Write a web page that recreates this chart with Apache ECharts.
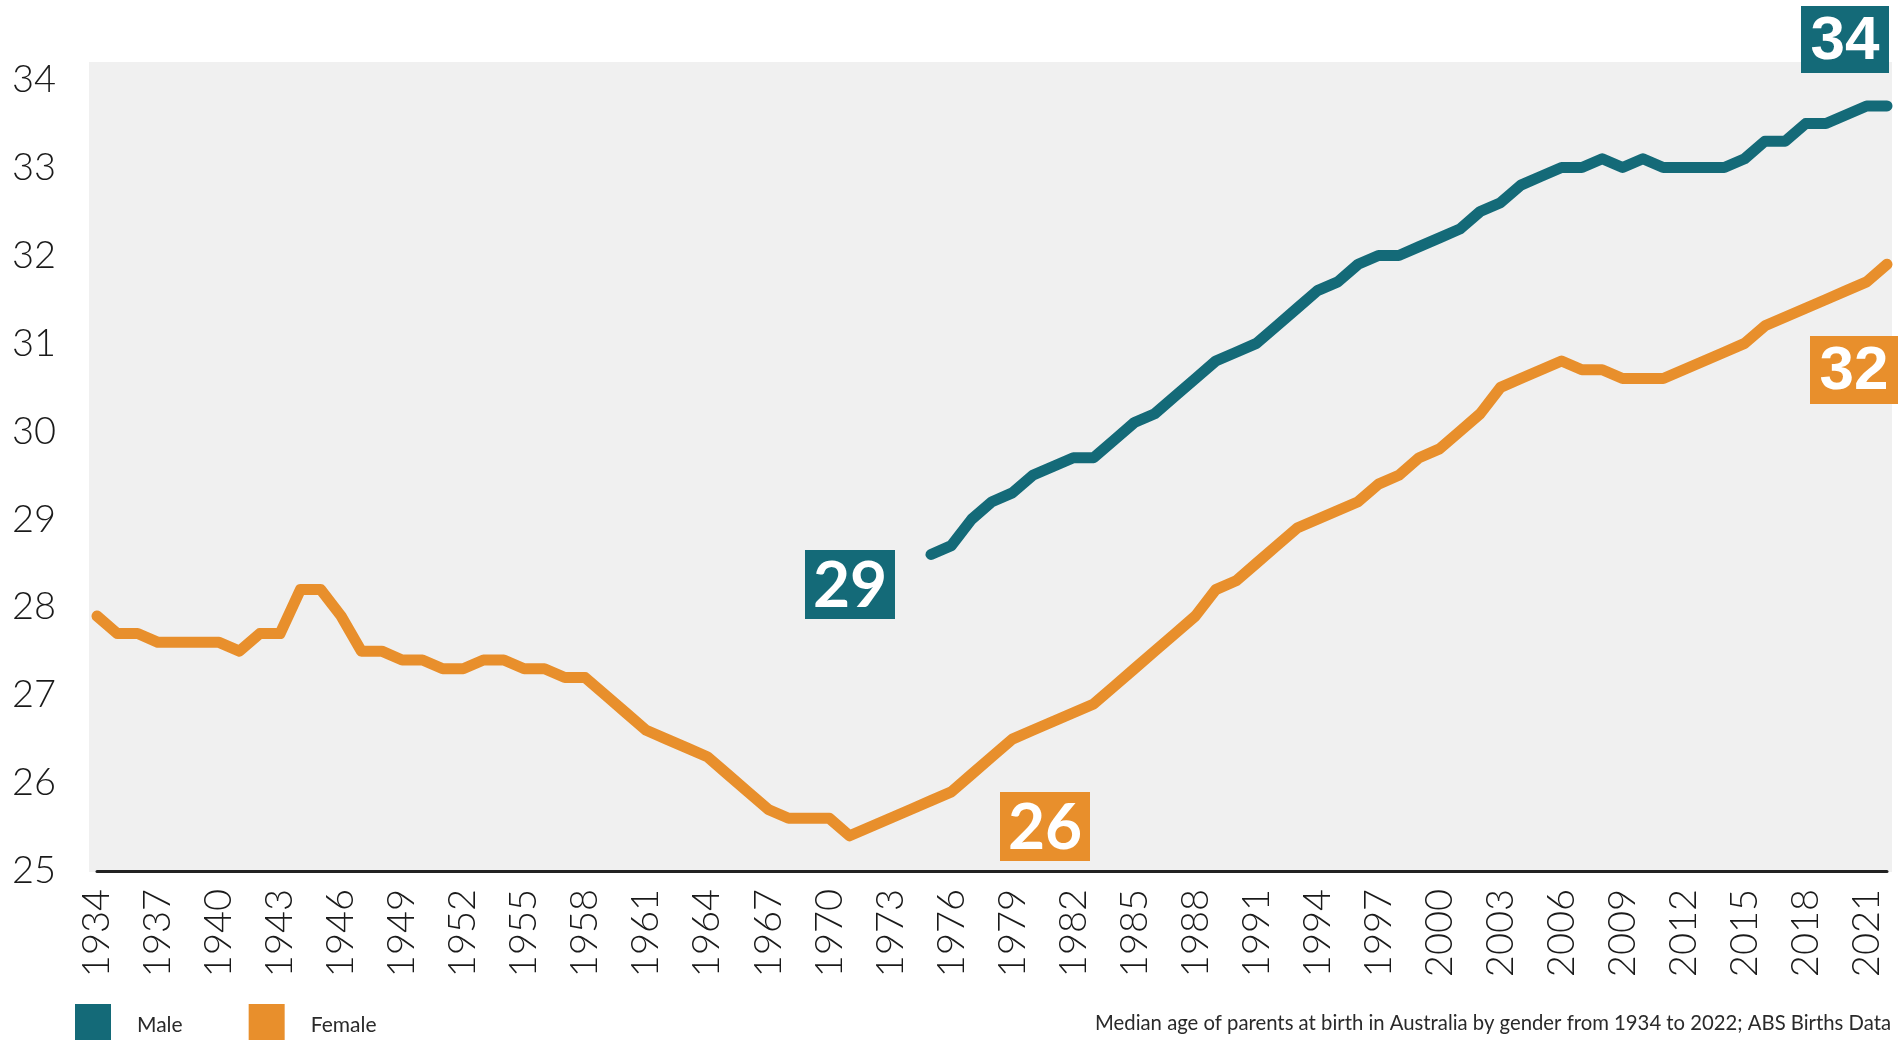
<!DOCTYPE html>
<html>
<head>
<meta charset="utf-8">
<title>Median age of parents at birth</title>
<script src="https://cdn.jsdelivr.net/npm/echarts@6.0.0/dist/echarts.min.js"></script>
<style>
  html, body { margin: 0; padding: 0; background: #fff; }
  #chart { width: 1899px; height: 1040px; }
</style>
</head>
<body>
<div id="chart"></div>
<script>
// years on the x axis (1934 - 2022)
const firstYear = 1934
const lastYear = 2022
const years = []
for (let y = firstYear; y <= lastYear; y++) years.push(String(y))

// female median age, 1934 - 2022
const femaleValues = [
  27.9, 27.7, 27.7, 27.6, 27.6, 27.6, 27.6, 27.5, 27.7, 27.7,
  28.2, 28.2, 27.9, 27.5, 27.5, 27.4, 27.4, 27.3, 27.3, 27.4,
  27.4, 27.3, 27.3, 27.2, 27.2, 27.0, 26.8, 26.6, 26.5, 26.4,
  26.3, 26.1, 25.9, 25.7, 25.6, 25.6, 25.6, 25.4, 25.5, 25.6,
  25.7, 25.8, 25.9, 26.1, 26.3, 26.5, 26.6, 26.7, 26.8, 26.9,
  27.1, 27.3, 27.5, 27.7, 27.9, 28.2, 28.3, 28.5, 28.7, 28.9,
  29.0, 29.1, 29.2, 29.4, 29.5, 29.7, 29.8, 30.0, 30.2, 30.5,
  30.6, 30.7, 30.8, 30.7, 30.7, 30.6, 30.6, 30.6, 30.7, 30.8,
  30.9, 31.0, 31.2, 31.3, 31.4, 31.5, 31.6, 31.7, 31.9
]

// male median age, only from 1975
const maleStartYear = 1975
const maleValues = [
  28.6, 28.7, 29.0, 29.2, 29.3, 29.5, 29.6, 29.7, 29.7, 29.9,
  30.1, 30.2, 30.4, 30.6, 30.8, 30.9, 31.0, 31.2, 31.4, 31.6,
  31.7, 31.9, 32.0, 32.0, 32.1, 32.2, 32.3, 32.5, 32.6, 32.8,
  32.9, 33.0, 33.0, 33.1, 33.0, 33.1, 33.0, 33.0, 33.0, 33.0,
  33.1, 33.3, 33.3, 33.5, 33.5, 33.6, 33.7, 33.7
]

// y axis ticks
const yMin = 25
const yMax = 34.2
const yStep = 1

// callout numbers
const calloutMale = ['29', '34']
const calloutFemale = ['26', '32']

const teal = '#146a78'
const orange = '#e88f2c'
const sourceNote = 'Median age of parents at birth in Australia by gender from 1934 to 2022; ABS Births Data'

// pad male series with nulls before it starts
const maleData = years.map((y) => {
  const i = Number(y) - maleStartYear
  return i >= 0 ? maleValues[i] : null
})

// coloured box with a white number in it
const callout = (x, y, w, h, color, text, font) => ({
  type: 'group',
  x: x,
  y: y,
  z: 10,
  children: [
    {
      type: 'rect',
      shape: { x: 0, y: 0, width: w, height: h },
      style: { fill: color }
    },
    {
      type: 'text',
      x: w / 2,
      y: h / 2 + 2,
      style: {
        text: text,
        fill: '#fff',
        font: font,
        align: 'center',
        verticalAlign: 'middle'
      }
    }
  ]
})

const option = {
  backgroundColor: '#fff',
  animation: false,
  textStyle: { fontFamily: 'Lato, "DejaVu Sans", sans-serif' },
  grid: {
    left: 97,
    right: 12,
    top: 62,
    bottom: 169
  },
  title: {
    text: sourceNote,
    right: 8,
    top: 1013,
    padding: 0,
    textStyle: {
      fontSize: 20.3,
      fontWeight: 'normal',
      color: '#2a2a2a'
    }
  },
  legend: {
    left: 75,
    top: 1004,
    padding: 0,
    icon: 'rect',
    itemWidth: 36,
    itemHeight: 42,
    itemGap: 66,
    textStyle: {
      fontSize: 21,
      color: '#2a2a2a',
      padding: [0, 0, 0, 21]
    },
    data: ['Male', 'Female']
  },
  graphic: [
    {
      // grey plot panel
      type: 'rect',
      silent: true,
      z: -10,
      shape: { x: 89, y: 62, width: 1803, height: 810 },
      style: { fill: '#f0f0f0' }
    },
    callout(1801, 6, 88, 67, teal, calloutMale[1], 'bold 62px "Liberation Sans", Arial, sans-serif'),
    callout(1810, 336, 88, 68, orange, calloutFemale[1], 'bold 62px "Liberation Sans", Arial, sans-serif'),
    callout(805, 550, 90, 69, teal, calloutMale[0], 'bold 64px Lato, sans-serif'),
    callout(1000, 792, 90, 69, orange, calloutFemale[0], 'bold 64px Lato, sans-serif')
  ],
  xAxis: {
    type: 'category',
    data: years,
    boundaryGap: false,
    axisLine: { show: true, lineStyle: { color: '#222', width: 3 } },
    axisTick: { show: false },
    splitLine: { show: false },
    axisLabel: {
      interval: 2,
      rotate: 90,
      margin: 18,
      fontSize: 38,
      fontWeight: 300,
      color: '#1a1a1a'
    }
  },
  yAxis: {
    type: 'value',
    min: yMin,
    max: yMax,
    interval: yStep,
    axisLine: { show: false },
    axisTick: { show: false },
    splitLine: { show: false },
    axisLabel: {
      margin: 41,
      fontSize: 38,
      fontWeight: 300,
      color: '#1a1a1a',
      showMaxLabel: false,
      formatter: (v) => (Math.abs(v - Math.round(v)) < 1e-6 ? String(Math.round(v)) : '')
    }
  },
  series: [
    {
      name: 'Male',
      type: 'line',
      data: maleData,
      symbol: 'none',
      connectNulls: false,
      itemStyle: { color: teal },
      lineStyle: { color: teal, width: 11, cap: 'round', join: 'round' },
      z: 3
    },
    {
      name: 'Female',
      type: 'line',
      data: femaleValues,
      symbol: 'none',
      itemStyle: { color: orange },
      lineStyle: { color: orange, width: 11, cap: 'round', join: 'round' },
      z: 2
    }
  ]
}

const chart = echarts.init(document.getElementById('chart'))
chart.setOption(option)
</script>
</body>
</html>
